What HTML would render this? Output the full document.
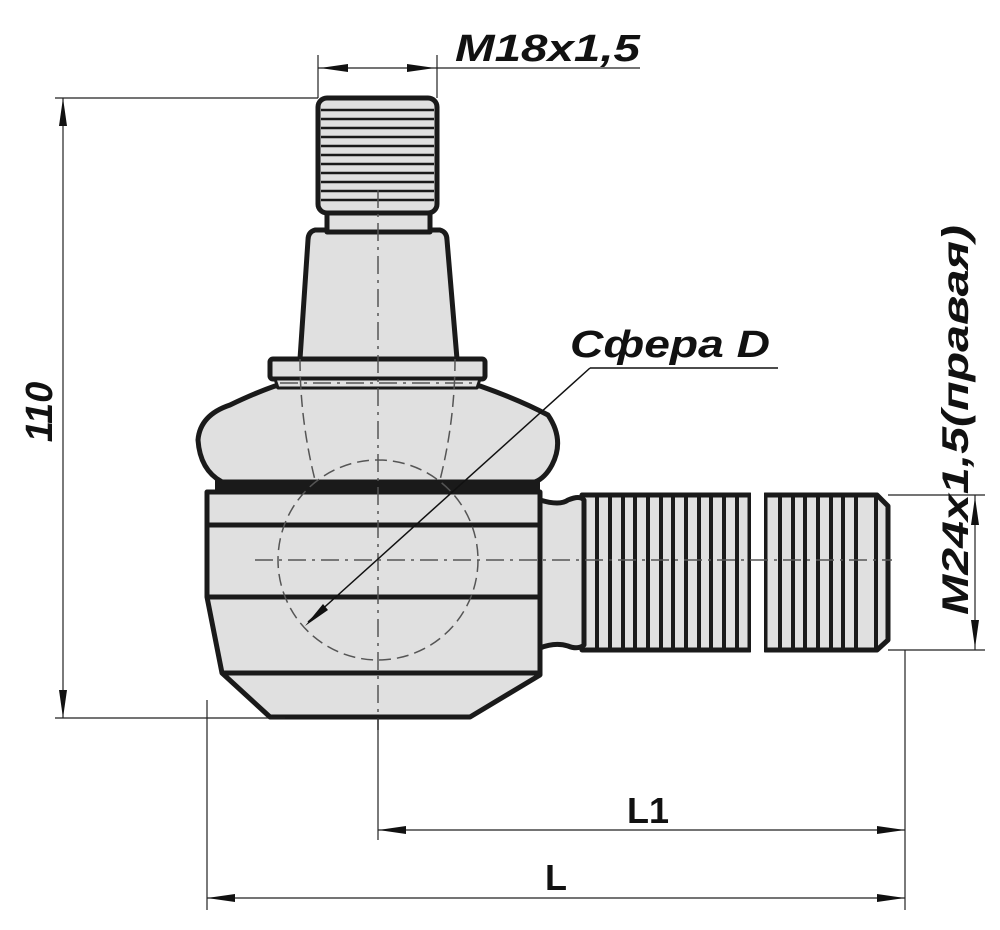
<!DOCTYPE html>
<html><head><meta charset="utf-8"><style>
html,body{margin:0;padding:0;background:#fff;}
svg{display:block;}
text{font-family:"Liberation Sans",sans-serif;font-weight:bold;font-style:italic;fill:#111;}
</style></head><body>
<svg width="1000" height="930" viewBox="0 0 1000 930" xmlns="http://www.w3.org/2000/svg">
<g fill="#e0e0e0" stroke="#1a1a1a" stroke-width="5" stroke-linejoin="round">
 <path d="M582,495 H750 V650 H582 Z"/>
 <path d="M765,495 H877 L888,506 V640 L877,650 H765 Z"/>
 <path d="M540,500 Q560,506 568,500 Q580,495 584,500 V645 Q578,650 568,646 Q555,642 540,648 Z"/>
 <path d="M207,492 H540 V675 L470,717 H285 L270,717 L222,673 L207,597 Z"/>
 <path d="M275,386 H480 Q520,400 548,415 Q565,440 552,465 Q545,478 535,482 H222 Q200,470 198,440 Q200,415 230,405 Q255,393 275,386 Z"/>
 <rect x="270" y="359" width="215" height="20" rx="3"/>
 <path d="M275,379 H480 L477,388 H278 Z" stroke-width="3"/>
 <path d="M315,230 H440 Q447,232 447,240 L457,359 H300 L308,240 Q308,232 315,230 Z"/>
 <rect x="327" y="210" width="103" height="22"/>
 <rect x="318" y="98" width="119" height="115" rx="9"/>
</g>
<rect x="215" y="480" width="325" height="12" fill="#1a1a1a"/>
<g stroke="#1a1a1a" stroke-width="5">
 <line x1="207" y1="525" x2="540" y2="525"/>
 <line x1="207" y1="597" x2="540" y2="597"/>
 <line x1="222" y1="673" x2="540" y2="673"/>
</g>
<g stroke="#1a1a1a" stroke-width="2.5">
 <line x1="321" y1="110" x2="434" y2="110"/><line x1="321" y1="119" x2="434" y2="119"/>
 <line x1="321" y1="128" x2="434" y2="128"/><line x1="321" y1="137" x2="434" y2="137"/>
 <line x1="321" y1="146" x2="434" y2="146"/><line x1="321" y1="155" x2="434" y2="155"/>
 <line x1="321" y1="164" x2="434" y2="164"/><line x1="321" y1="173" x2="434" y2="173"/>
 <line x1="321" y1="182" x2="434" y2="182"/><line x1="321" y1="191" x2="434" y2="191"/>
 <line x1="321" y1="200" x2="434" y2="200"/>
</g>
<g stroke="#1a1a1a" stroke-width="4">
 <line x1="597" y1="497" x2="597" y2="648"/><line x1="610" y1="497" x2="610" y2="648"/>
 <line x1="623" y1="497" x2="623" y2="648"/><line x1="635" y1="497" x2="635" y2="648"/>
 <line x1="648" y1="497" x2="648" y2="648"/><line x1="661" y1="497" x2="661" y2="648"/>
 <line x1="673" y1="497" x2="673" y2="648"/><line x1="686" y1="497" x2="686" y2="648"/>
 <line x1="699" y1="497" x2="699" y2="648"/><line x1="711" y1="497" x2="711" y2="648"/>
 <line x1="724" y1="497" x2="724" y2="648"/><line x1="737" y1="497" x2="737" y2="648"/>
 <line x1="780" y1="497" x2="780" y2="648"/><line x1="793" y1="497" x2="793" y2="648"/>
 <line x1="805" y1="497" x2="805" y2="648"/><line x1="818" y1="497" x2="818" y2="648"/>
 <line x1="831" y1="497" x2="831" y2="648"/><line x1="843" y1="497" x2="843" y2="648"/>
 <line x1="856" y1="497" x2="856" y2="648"/><line x1="876" y1="497" x2="876" y2="648"/>
</g>
<rect x="751" y="490" width="13" height="165" fill="#fff"/>
<g fill="none" stroke="#555" stroke-width="1.5" stroke-dasharray="18,6,3,6">
 <line x1="378" y1="190" x2="378" y2="730"/>
 <line x1="255" y1="560" x2="892" y2="560"/>
 <line x1="280" y1="383" x2="475" y2="383"/>
</g>
<g fill="none" stroke="#555" stroke-width="1.5" stroke-dasharray="12,6">
 <circle cx="378" cy="560" r="100"/>
 <path d="M300,359 Q300,420 315,480"/><path d="M455,359 Q455,420 440,480"/>
</g>
<g stroke="#222" stroke-width="1.2" fill="none">
 <line x1="55" y1="98" x2="318" y2="98"/>
 <line x1="55" y1="718" x2="285" y2="718"/>
 <line x1="63" y1="98" x2="63" y2="718"/>
 <line x1="318" y1="55" x2="318" y2="98"/>
 <line x1="437" y1="55" x2="437" y2="98"/>
 <line x1="318" y1="68" x2="640" y2="68"/>
 <line x1="888" y1="495" x2="985" y2="495"/>
 <line x1="888" y1="650" x2="985" y2="650"/>
 <line x1="975" y1="495" x2="975" y2="650"/>
 <line x1="378" y1="718" x2="378" y2="840"/>
 <line x1="905" y1="650" x2="905" y2="910"/>
 <line x1="207" y1="700" x2="207" y2="910"/>
 <line x1="378" y1="830" x2="905" y2="830"/>
 <line x1="207" y1="898" x2="905" y2="898"/>
</g>
<g stroke="#111" stroke-width="1.5" fill="none">
 <path d="M590,368 H778"/>
 <path d="M590,368 L308,622"/>
</g>
<g fill="#111">
 <path d="M63,98 l-4,28 h8 z"/><path d="M63,718 l-4,-28 h8 z"/>
 <path d="M320,68 l28,-4 v8 z"/><path d="M435,68 l-28,-4 v8 z"/>
 <path d="M975,497 l-4,28 h8 z"/><path d="M975,648 l-4,-28 h8 z"/>
 <path d="M378,830 l28,-4 v8 z"/><path d="M905,830 l-28,-4 v8 z"/>
 <path d="M207,898 l28,-4 v8 z"/><path d="M905,898 l-28,-4 v8 z"/>
 <path d="M305,626 l18,-22 l5,6 z"/>
</g>
<text x="455" y="61" font-size="38" textLength="185" lengthAdjust="spacingAndGlyphs">M18x1,5</text>
<text x="570" y="357" font-size="38" textLength="200" lengthAdjust="spacingAndGlyphs">Сфера D</text>
<text x="627" y="823" font-size="36" style="font-style:normal">L1</text>
<text x="545" y="890" font-size="36" style="font-style:normal">L</text>
<text transform="translate(52,412) rotate(-90)" text-anchor="middle" font-size="38">110</text>
<text transform="translate(968,615) rotate(-90)" font-size="37" textLength="390" lengthAdjust="spacingAndGlyphs">M24x1,5(правая)</text>
</svg>
</body></html>
